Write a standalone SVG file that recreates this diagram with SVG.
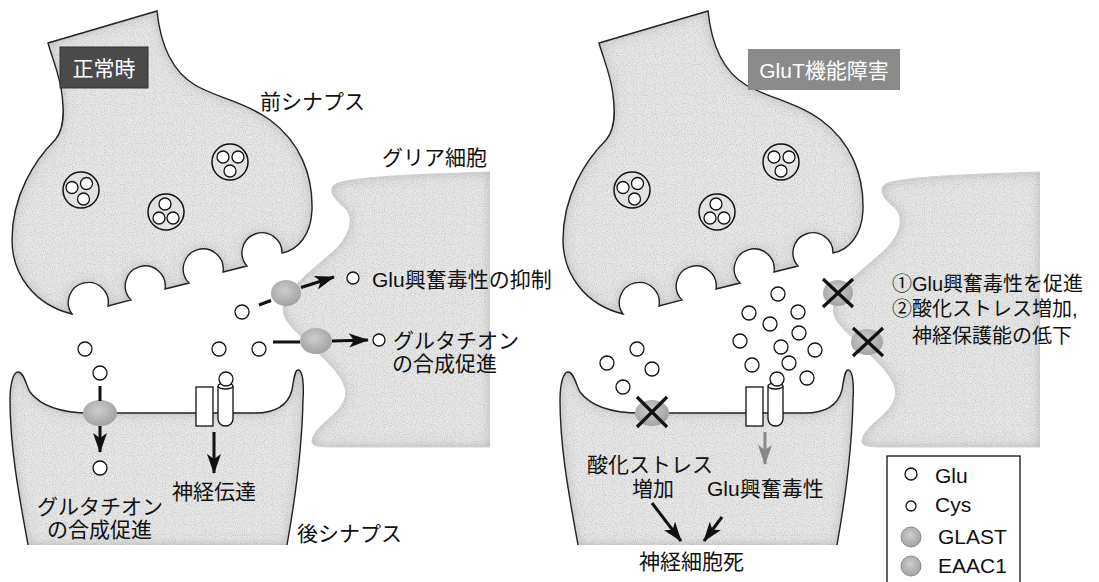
<svg xmlns="http://www.w3.org/2000/svg" width="1099" height="582" viewBox="0 0 1099 582">
  <style>
    .txt{font-family:"Liberation Sans","Noto Sans CJK JP",sans-serif;font-size:21px;fill:#111}
    .sm{font-size:20px}
    .circ{font-family:"Noto Sans CJK JP",sans-serif}
    .lbl{font-family:"Liberation Sans","Noto Sans CJK JP",sans-serif;font-size:21px;fill:#fff}
    .glu{fill:#fff;stroke:#111;stroke-width:1.3}
    .outline{fill:none;stroke:#222;stroke-width:1.4}
    .glia-edge{fill:none;stroke:#cfcfcf;stroke-width:1}
    .cellfill{fill:#e7e7e7;filter:url(#stipple)}
    .vesicle{fill:#e2e2e2;stroke:#111;stroke-width:1.5}
    .arrow{stroke:#111;stroke-width:3;fill:none;marker-end:url(#head)}
    .line{stroke:#111;stroke-width:3;fill:none}
    .garrow{stroke:#888;stroke-width:3;fill:none;marker-end:url(#ghead)}
    .cross{stroke:#111;stroke-width:3.2}
    .trans{fill:url(#transGrad)}
    .recep{fill:#fff;stroke:#111;stroke-width:1.3}
  </style>
  <defs>
    <filter id="stipple" x="0" y="0" width="100%" height="100%" color-interpolation-filters="sRGB">
      <feGaussianBlur in="SourceAlpha" stdDeviation="6" result="blur"/>
      <feComposite in="SourceAlpha" in2="blur" operator="arithmetic" k2="1" k3="-1" result="rim"/>
      <feFlood flood-color="#a8a8a8" flood-opacity="0.7"/>
      <feComposite in2="rim" operator="in" result="shade"/>
      <feTurbulence type="fractalNoise" baseFrequency="0.9" numOctaves="1" seed="7" result="noise"/>
      <feColorMatrix in="noise" type="matrix" values="0 0 0 0 0.55  0 0 0 0 0.55  0 0 0 0 0.55  0 0 0 1.0 -0.46" result="dots"/>
      <feComposite in="dots" in2="SourceAlpha" operator="in" result="grain"/>
      <feMerge><feMergeNode in="SourceGraphic"/><feMergeNode in="shade"/><feMergeNode in="grain"/></feMerge>
    </filter>
    <radialGradient id="transGrad" cx="45%" cy="40%" r="60%">
      <stop offset="0" stop-color="#cdcdcd"/>
      <stop offset="1" stop-color="#a2a2a2"/>
    </radialGradient>
    <marker id="head" viewBox="0 0 20 14" refX="19" refY="7" markerWidth="20" markerHeight="14" markerUnits="userSpaceOnUse" orient="auto">
      <path d="M0,0 L20,7 L0,14 L5,7 Z" fill="#111"/>
    </marker>
    <marker id="ghead" viewBox="0 0 20 14" refX="19" refY="7" markerWidth="20" markerHeight="14" markerUnits="userSpaceOnUse" orient="auto">
      <path d="M0,0 L20,7 L0,14 L5,7 Z" fill="#888"/>
    </marker>

    <!-- presynaptic terminal with four docking pits -->
    <path id="preBody" d="M48,43 L157,11 C160,40 170,70 195,85 C215,97 245,102 270,120 C300,142 313,175 312,210 C311,235 298,250 282,253 A20,20 0 1 0 247,266 L223,272 A20,20 0 1 0 189,283 L165,289 A20,20 0 1 0 131,300 L108,306 A20,20 0 1 0 72,314 C35,305 12,275 12,240 C12,195 35,160 55,140 C65,128 64,110 62,95 C60,75 52,58 48,43 Z"/>
    <g id="vesicles">
      <circle class="vesicle" cx="81" cy="190" r="18"/>
      <circle class="glu" cx="72" cy="187.5" r="6"/>
      <circle class="glu" cx="86.5" cy="183.5" r="6"/>
      <circle class="glu" cx="83.5" cy="199" r="6"/>
      <circle class="vesicle" cx="166" cy="212" r="18"/>
      <circle class="glu" cx="165" cy="204" r="6"/>
      <circle class="glu" cx="159" cy="218" r="6"/>
      <circle class="glu" cx="173" cy="218" r="6"/>
      <circle class="vesicle" cx="230" cy="162" r="18"/>
      <circle class="glu" cx="223" cy="157" r="6"/>
      <circle class="glu" cx="238" cy="157" r="6"/>
      <circle class="glu" cx="230" cy="171" r="6"/>
    </g>

    <!-- glial process -->
    <path id="gliaFill" d="M490,172 C430,174 360,176 338,183 C325,188 335,200 345,208 C355,218 350,235 335,250 C315,268 290,285 284,305 C280,320 295,330 310,345 C325,360 350,380 345,398 C340,415 315,425 312,440 C311,446 318,447 330,447 L490,447 Z"/>
    <path id="gliaEdge" d="M490,172 C430,174 360,176 338,183 C325,188 335,200 345,208 C355,218 350,235 335,250 C315,268 290,285 284,305 C280,320 295,330 310,345 C325,360 350,380 345,398 C340,415 315,425 312,440 C311,446 318,447 330,447 L490,447"/>

    <!-- postsynaptic spine -->
    <path id="postFill" d="M28,545 C20,500 10,450 10,400 C10,385 13,372 18,372 C24,372 26,385 30,392 C40,405 60,413 90,413 L255,413 C275,413 288,405 292,390 C294,378 295,370 298,370 C303,370 304,385 303,400 C302,450 295,500 287,545 Z"/>
    <path id="postEdge" d="M28,545 C20,500 10,450 10,400 C10,385 13,372 18,372 C24,372 26,385 30,392 C40,405 60,413 90,413 L255,413 C275,413 288,405 292,390 C294,378 295,370 298,370 C303,370 304,385 303,400 C302,450 295,500 287,545"/>
    <g id="receptor">
      <rect class="recep" x="196" y="387" width="17" height="39"/>
      <path class="recep" d="M218,386 L218,419 A7.5,7 0 0 0 233,419 L233,386"/>
      <ellipse class="recep" cx="225.5" cy="386" rx="7.5" ry="3"/>
    </g>
  </defs>

  <rect width="1099" height="582" fill="#fff"/>

  <!-- ===== Normal state ===== -->
  <g id="pre-normal">
    <use href="#preBody" class="cellfill"/>
    <use href="#preBody" class="outline"/>
    <use href="#vesicles"/>
  </g>
  <g id="glia-normal">
    <use href="#gliaFill" class="cellfill"/>
    <use href="#gliaEdge" class="glia-edge"/>
    <ellipse class="trans" cx="286" cy="293" rx="15" ry="13"/>
    <ellipse class="trans" cx="316" cy="341" rx="16" ry="13"/>
  </g>
  <g id="post-normal">
    <use href="#postFill" class="cellfill"/>
    <use href="#postEdge" class="outline"/>
    <ellipse class="trans" cx="100" cy="413" rx="17" ry="13"/>
    <use href="#receptor"/>
  </g>
  <g id="label-normal">
    <rect x="60" y="47" width="88" height="41" fill="#4a4a4a" stroke="#333" stroke-width="1"/>
    <text class="lbl" x="104" y="76" text-anchor="middle">正常時</text>
  </g>
  <g id="glu-normal">
    <circle class="glu" cx="85" cy="349" r="7"/>
    <circle class="glu" cx="100" cy="373" r="7"/>
    <circle class="glu" cx="100" cy="468" r="7"/>
    <circle class="glu" cx="219" cy="349" r="7"/>
    <circle class="glu" cx="259" cy="349" r="7"/>
    <circle class="glu" cx="242" cy="312" r="7"/>
    <circle class="glu" cx="226" cy="379" r="7"/>
    <circle class="glu" cx="353" cy="278" r="6"/>
    <circle class="glu" cx="379" cy="340" r="6"/>
  </g>
  <g id="connectors-normal">
    <line class="line" x1="259" y1="305" x2="271" y2="300.5"/>
    <line class="arrow" x1="301" y1="287.5" x2="334" y2="277"/>
    <line class="line" x1="273" y1="342" x2="300" y2="342"/>
    <line class="arrow" x1="332" y1="341" x2="368" y2="340"/>
    <line class="line" x1="100" y1="386" x2="100" y2="401"/>
    <line class="arrow" x1="100" y1="426" x2="100" y2="452"/>
    <line class="arrow" x1="214" y1="432" x2="214" y2="473"/>
  </g>
  <g id="text-normal">
    <text class="txt" x="260" y="109">前シナプス</text>
    <text class="txt" x="382" y="165">グリア細胞</text>
    <text class="txt" x="372" y="287">Glu興奮毒性の抑制</text>
    <text class="txt" x="393" y="348">グルタチオン</text>
    <text class="txt" x="392" y="371">の合成促進</text>
    <text class="txt" x="172" y="499">神経伝達</text>
    <text class="txt" x="37" y="514">グルタチオン</text>
    <text class="txt" x="47" y="537">の合成促進</text>
    <text class="txt" x="297" y="541">後シナプス</text>
  </g>

  <!-- ===== GluT dysfunction ===== -->
  <g id="pre-glut" transform="translate(551,0)">
    <use href="#preBody" class="cellfill"/>
    <use href="#preBody" class="outline"/>
    <use href="#vesicles"/>
  </g>
  <g id="glia-glut" transform="translate(550,0)">
    <use href="#gliaFill" class="cellfill"/>
    <use href="#gliaEdge" class="glia-edge"/>
    <ellipse class="trans" cx="288" cy="293" rx="15" ry="13"/>
    <ellipse class="trans" cx="317" cy="342" rx="16" ry="13"/>
    <path class="cross" d="M273,279 L303,307 M303,279 L273,307"/>
    <path class="cross" d="M303,328 L333,356 M333,328 L303,356"/>
  </g>
  <g id="post-glut" transform="translate(550,0)">
    <use href="#postFill" class="cellfill"/>
    <use href="#postEdge" class="outline"/>
    <ellipse class="trans" cx="102" cy="413" rx="17" ry="13"/>
    <path class="cross" d="M87,397 L117,427 M117,397 L87,427"/>
    <use href="#receptor"/>
  </g>
  <g id="label-glut">
    <rect x="748" y="49" width="152" height="41" fill="#8a8a8a"/>
    <text class="lbl" x="824" y="78" text-anchor="middle">GluT機能障害</text>
  </g>
  <g id="glu-glut">
    <circle class="glu" cx="778" cy="294" r="7"/>
    <circle class="glu" cx="749" cy="313" r="7"/>
    <circle class="glu" cx="798" cy="312" r="7"/>
    <circle class="glu" cx="770" cy="324" r="7"/>
    <circle class="glu" cx="799" cy="333" r="7"/>
    <circle class="glu" cx="740" cy="341" r="7"/>
    <circle class="glu" cx="781" cy="347" r="7"/>
    <circle class="glu" cx="815" cy="350" r="7"/>
    <circle class="glu" cx="752" cy="365" r="7"/>
    <circle class="glu" cx="789" cy="363" r="7"/>
    <circle class="glu" cx="807" cy="378" r="7"/>
    <circle class="glu" cx="777" cy="379" r="7"/>
    <circle class="glu" cx="637" cy="349" r="7"/>
    <circle class="glu" cx="607" cy="363" r="7"/>
    <circle class="glu" cx="652" cy="369" r="7"/>
    <circle class="glu" cx="623" cy="387" r="7"/>
  </g>
  <g id="connectors-glut">
    <line class="garrow" x1="765" y1="432" x2="765" y2="464"/>
    <line class="arrow" x1="652" y1="503" x2="681" y2="541"/>
    <line class="arrow" x1="722" y1="517" x2="704" y2="541"/>
  </g>
  <g id="text-glut">
    <text class="txt sm" x="892" y="291"><tspan class="circ">①</tspan>Glu興奮毒性を促進</text>
    <text class="txt sm" x="892" y="316"><tspan class="circ">②</tspan>酸化ストレス増加,</text>
    <text class="txt sm" x="912" y="343">神経保護能の低下</text>
    <text class="txt" x="587" y="472">酸化ストレス</text>
    <text class="txt" x="632" y="496">増加</text>
    <text class="txt" x="707" y="496">Glu興奮毒性</text>
    <text class="txt" x="639" y="569">神経細胞死</text>
  </g>

  <!-- ===== Legend ===== -->
  <g id="legend">
    <rect x="887" y="456" width="133" height="140" fill="#fff" stroke="#111" stroke-width="1.3"/>
    <circle class="glu" cx="911" cy="474" r="6"/>
    <text class="txt" x="935" y="483">Glu</text>
    <circle class="glu" cx="911" cy="506" r="5"/>
    <text class="txt" x="935" y="512">Cys</text>
    <circle cx="911" cy="537" r="10" fill="url(#transGrad)" stroke="#777" stroke-width="0.8"/>
    <text class="txt" x="938" y="544">GLAST</text>
    <circle cx="911" cy="566" r="10" fill="url(#transGrad)" stroke="#777" stroke-width="0.8"/>
    <text class="txt" x="938" y="573">EAAC1</text>
  </g>
</svg>
